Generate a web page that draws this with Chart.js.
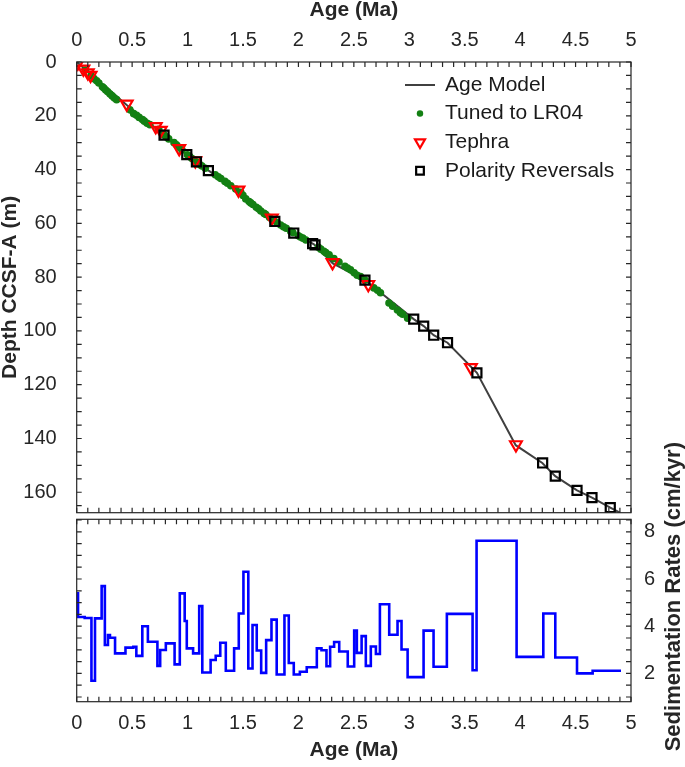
<!DOCTYPE html>
<html>
<head>
<meta charset="utf-8">
<title>Age model and sedimentation rates</title>
<script src="https://cdn.jsdelivr.net/npm/chart.js@4.4.1/dist/chart.umd.min.js"></script>
<style>
  html,body{margin:0;padding:0;background:#fff;}
  #page{position:relative;width:685px;height:767px;overflow:hidden;}
  #ageChart{position:absolute;left:0;top:0;}
  #rateChart{position:absolute;left:0;top:400px;}
</style>
</head>
<body>
<div id="page">
  <canvas id="ageChart" width="685" height="516"></canvas>
  <canvas id="rateChart" width="685" height="367"></canvas>
</div>
<script>
// ---- values ----
const ageTicks   = [0,0.5,1,1.5,2,2.5,3,3.5,4,4.5,5];
const depthTicks = [0,20,40,60,80,100,120,140,160];
const rateTicks  = [2,4,6,8];

// age model (Ma / m CCSF-A)
const modelAge   = [0,0.451,0.79,0.99,1.08,1.19,1.465,1.79,1.96,2.14,2.31,2.6,3.04,3.13,3.22,3.345,3.61,3.96,4.2,4.317,4.513,4.648,4.813,4.9];
const modelDepth = [0,16.0,27.2,34.4,37.1,40.4,47.9,59.4,63.6,67.8,74.9,81.1,95.6,98.2,101.6,104.4,115.6,142.5,149.1,154.0,159.3,162.0,165.7,167.6];

// tie points
const tunedAge   = [0.08,0.13,0.156,0.18,0.2,0.232,0.245,0.262,0.28,0.301,0.32,0.34,0.36,0.48,0.514,0.54,0.563,0.593,0.61,0.635,0.66,
                    0.74,0.788,0.81,0.83,0.878,0.9,0.923,0.95,0.999,1.02,1.04,1.059,1.09,1.113,1.13,1.16,1.25,1.277,1.3,1.337,1.36,1.39,1.435,
                    1.48,1.5,1.525,1.555,1.57,1.59,1.62,1.64,1.661,1.691,1.706,1.74,1.781,1.81,1.84,1.865,1.89,1.931,1.95,2.0,2.018,2.04,2.067,
                    2.18,2.202,2.23,2.247,2.277,2.32,2.366,2.42,2.443,2.47,2.503,2.53,2.56,2.6,2.68,2.714,2.74,2.817,2.85,2.893,2.92,2.94,2.985];
const tunedDepth = [3.0,5.1,6.2,7.0,7.8,9.2,9.7,10.4,11.1,11.9,12.6,13.4,14.0,17.8,19.2,19.8,20.6,21.4,22.0,22.8,23.3,
                    25.0,27.1,27.9,28.6,30.0,30.8,31.7,32.7,34.5,35.2,35.9,36.5,37.4,38.2,38.7,39.5,41.9,42.7,43.3,44.4,45.1,46.0,47.2,
                    48.5,49.6,50.9,51.9,52.4,53.0,54.0,54.6,55.4,56.3,56.7,57.8,59.0,59.8,60.6,61.3,61.8,63.0,63.4,64.6,65.1,65.5,66.2,
                    68.9,69.6,70.4,70.9,71.7,73.1,74.4,76.0,76.6,77.3,78.4,79.3,79.8,81.1,84.0,84.9,85.8,89.6,90.8,92.2,93.2,93.8,95.3];
const tephraAge   = [0.01,0.06,0.1,0.125,0.451,0.713,0.758,0.925,1.07,1.459,1.76,2.308,2.63,3.556,3.962];
const tephraDepth = [0.4,2.6,4.0,4.9,15.6,24.0,25.4,32.2,36.7,47.6,58.0,74.6,82.7,113.6,142.3];
const polarityAge   = [0.788,0.993,1.08,1.188,1.787,1.958,2.128,2.15,2.6,3.04,3.13,3.22,3.345,3.61,4.203,4.317,4.513,4.648,4.813];
const polarityDepth = [27.2,34.4,37.1,40.4,59.3,63.6,67.5,68.0,81.1,95.6,98.2,101.6,104.4,115.6,149.1,154.0,159.3,162.0,165.7];

// sedimentation rate steps: start age of each interval (last = end) and rate (cm/kyr)
const rateAge = [0,0.012,0.072,0.133,0.165,0.225,0.254,0.282,0.300,0.346,0.440,0.511,0.538,0.592,0.642,0.728,0.753,0.804,0.883,0.930,
                 0.974,0.993,1.050,1.105,1.133,1.208,1.254,1.295,1.345,1.420,1.462,1.504,1.548,1.586,1.624,1.664,1.709,1.757,1.804,1.874,
                 1.913,1.958,2.013,2.075,2.166,2.208,2.253,2.286,2.322,2.368,2.445,2.503,2.527,2.570,2.608,2.653,2.699,2.735,2.819,2.894,
                 2.930,2.985,3.129,3.219,3.339,3.571,3.607,3.968,4.209,4.317,4.513,4.654,4.910];
const rateVal = [5.39,4.39,4.35,1.69,4.33,5.70,3.20,3.62,3.51,2.85,3.09,3.13,2.74,4.00,3.34,2.32,2.99,3.27,2.38,5.39,
                 4.22,3.06,2.85,4.85,2.04,2.57,2.75,3.30,2.11,3.06,4.54,6.31,2.21,4.05,2.97,2.02,3.41,4.28,1.95,4.45,
                 2.44,1.95,2.07,2.26,3.06,2.98,2.30,3.13,3.33,2.93,2.29,3.81,2.87,3.58,2.32,3.14,2.82,4.93,3.64,4.22,
                 3.01,1.84,3.81,2.28,4.52,2.13,7.62,2.70,4.54,2.67,2.00,2.11,2.11];

const INK = '#262626';
const FONT = '"Liberation Sans", Arial, Helvetica, sans-serif';
const pts = (xs, ys) => xs.map((x,i)=>({x, y: ys[i]}));
const fixTicks = list => s => { s.ticks = list.map(v=>({value:v})); };
// fixed axis thickness, and no extra room for overhanging end labels
const fitX = h => s => { s.height = h; s.paddingLeft = 0; s.paddingRight = 0; };
const fitY = w => s => { s.width = w; s.paddingTop = 0; s.paddingBottom = 0; };

// box + inward ticks on all four sides (MATLAB style)
const framePlugin = {
  id: 'frame',
  afterDatasetsDraw(chart, args, o) {
    const {ctx, chartArea: a, scales: {x, y}} = chart;
    ctx.save();
    ctx.strokeStyle = INK; ctx.lineWidth = 1.2;
    ctx.beginPath();
    for (let i = 0; i * o.xMinor <= x.max + 1e-9; i++) {
      const p = x.getPixelForValue(i * o.xMinor);
      ctx.moveTo(p, a.top); ctx.lineTo(p, a.top + o.len);
      ctx.moveTo(p, a.bottom); ctx.lineTo(p, a.bottom - o.len);
    }
    for (let i = 0; o.yStart + i * o.yMinor <= Math.max(y.max, y.min) + 1e-9; i++) {
      const p = y.getPixelForValue(o.yStart + i * o.yMinor);
      ctx.moveTo(a.left, p); ctx.lineTo(a.left + o.len, p);
      ctx.moveTo(a.right, p); ctx.lineTo(a.right - o.len, p);
    }
    ctx.stroke();
    ctx.strokeRect(a.left, a.top, a.right - a.left, a.bottom - a.top);
    ctx.restore();
  }
};

// legend drawn inside the top-right of the plot, no box
const keyPlugin = {
  id: 'key',
  afterDraw(chart, args, o) {
    const ctx = chart.ctx;
    ctx.save();
    ctx.font = `${o.size}px ${FONT}`;
    ctx.textBaseline = 'middle';
    chart.data.datasets.forEach((ds, i) => {
      const y = o.y + i * o.gap;
      if (ds.showLine) {
        ctx.strokeStyle = ds.borderColor; ctx.lineWidth = ds.borderWidth;
        ctx.beginPath(); ctx.moveTo(o.x - 15, y); ctx.lineTo(o.x + 15, y); ctx.stroke();
      } else {
        ctx.fillStyle = ds.pointBackgroundColor; ctx.strokeStyle = ds.pointBorderColor;
        ctx.lineWidth = ds.pointBorderWidth;
        Chart.helpers.drawPoint(ctx, {pointStyle: ds.pointStyle, rotation: ds.pointRotation || 0,
          radius: ds.pointRadius * o.shrink, borderWidth: ds.pointBorderWidth}, o.x, y);
      }
      ctx.fillStyle = '#1a1a1a';
      ctx.fillText(ds.label, o.textX, y);
    });
    ctx.restore();
  }
};

// right-hand axis title, reading bottom to top
const sideTitle = {
  id: 'sideTitle',
  afterDraw(chart, args, o) {
    const ctx = chart.ctx;
    ctx.save();
    ctx.translate(o.x, o.y);
    ctx.rotate(-Math.PI / 2);
    ctx.font = `bold ${o.size}px ${FONT}`;
    ctx.fillStyle = INK;
    ctx.textAlign = 'right';
    ctx.textBaseline = 'middle';
    ctx.fillText(o.text, 0, 0);
    ctx.restore();
  }
};

const tickFont = {family: FONT, size: 20};
const titleFont = {family: FONT, size: 21, weight: 'bold', lineHeight: 1};

new Chart(document.getElementById('ageChart'), {
  type: 'scatter',
  data: { datasets: [
    { label: 'Age Model', data: pts(modelAge, modelDepth), showLine: true, borderColor: '#404040', borderWidth: 2,
      pointRadius: 0, order: 4 },
    { label: 'Tuned to LR04', data: pts(tunedAge, tunedDepth), pointStyle: 'circle', pointRadius: 3.8,
      pointBackgroundColor: '#138013', pointBorderColor: '#138013', pointBorderWidth: 0, order: 3 },
    { label: 'Tephra', data: pts(tephraAge, tephraDepth), pointStyle: 'triangle', pointRotation: 180, pointRadius: 6.8,
      pointBackgroundColor: 'rgba(0,0,0,0)', pointBorderColor: '#ff0000', pointBorderWidth: 2.2, order: 2 },
    { label: 'Polarity Reversals', data: pts(polarityAge, polarityDepth), pointStyle: 'rect', pointRadius: 6.4,
      pointBackgroundColor: 'rgba(0,0,0,0)', pointBorderColor: '#000000', pointBorderWidth: 2.2, order: 1 },
  ]},
  options: {
    responsive: false, animation: false, events: [],
    layout: { autoPadding: false, padding: { left: 0, top: 0, right: 54, bottom: 3.3 } },
    plugins: {
      legend: { display: false }, tooltip: { enabled: false },
      frame: { xMinor: 0.1, yStart: 0, yMinor: 5, len: 5 },
      key: { x: 420, textX: 445, y: 85, gap: 28.6, size: 21, shrink: 0.85 },
    },
    scales: {
      x: { type: 'linear', position: 'top', min: 0, max: 5,
           afterBuildTicks: fixTicks(ageTicks), afterFit: fitX(62),
           grid: { display: false }, border: { display: false },
           ticks: { font: tickFont, color: INK, padding: 2, maxRotation: 0, autoSkip: false, callback: v => String(v) },
           title: { display: true, text: 'Age (Ma)', color: INK, font: titleFont, padding: 0 } },
      y: { type: 'linear', position: 'left', reverse: true, min: 0, max: 167.6,
           afterBuildTicks: fixTicks(depthTicks), afterFit: fitY(76.7),
           grid: { display: false }, border: { display: false },
           ticks: { font: tickFont, color: INK, padding: 12, autoSkip: false, callback: v => String(v) },
           title: { display: true, text: 'Depth CCSF-A (m)', color: INK, font: titleFont, padding: 0 } },
    },
  },
  plugins: [framePlugin, keyPlugin],
});

new Chart(document.getElementById('rateChart'), {
  type: 'scatter',
  data: { datasets: [
    { label: 'Sedimentation Rates', data: pts(rateAge, rateVal), showLine: true, stepped: 'before',
      borderColor: '#0000ff', borderWidth: 2.6, pointRadius: 0 },
  ]},
  options: {
    responsive: false, animation: false, events: [],
    layout: { autoPadding: false, padding: { left: 76.7, top: 119.3, right: 0, bottom: 0 } },
    plugins: {
      legend: { display: false }, tooltip: { enabled: false },
      frame: { xMinor: 0.1, yStart: 1, yMinor: 0.5, len: 5 },
      sideTitle: { text: 'Sedimentation Rates (cm/kyr)', x: 674, y: 42, size: 22 },
    },
    scales: {
      x: { type: 'linear', position: 'bottom', min: 0, max: 5,
           afterBuildTicks: fixTicks(ageTicks), afterFit: fitX(65.3),
           grid: { display: false }, border: { display: false },
           ticks: { font: tickFont, color: INK, padding: 2, maxRotation: 0, autoSkip: false, callback: v => String(v) },
           title: { display: true, text: 'Age (Ma)', color: INK, font: titleFont, padding: { top: 0, bottom: 6 } } },
      y: { type: 'linear', position: 'right', min: 0.8, max: 8.53,
           afterBuildTicks: fixTicks(rateTicks), afterFit: fitY(54),
           grid: { display: false }, border: { display: false },
           ticks: { font: tickFont, color: INK, padding: 5, autoSkip: false, callback: v => String(v) } },
    },
  },
  plugins: [framePlugin, sideTitle],
});
</script>
</body>
</html>
